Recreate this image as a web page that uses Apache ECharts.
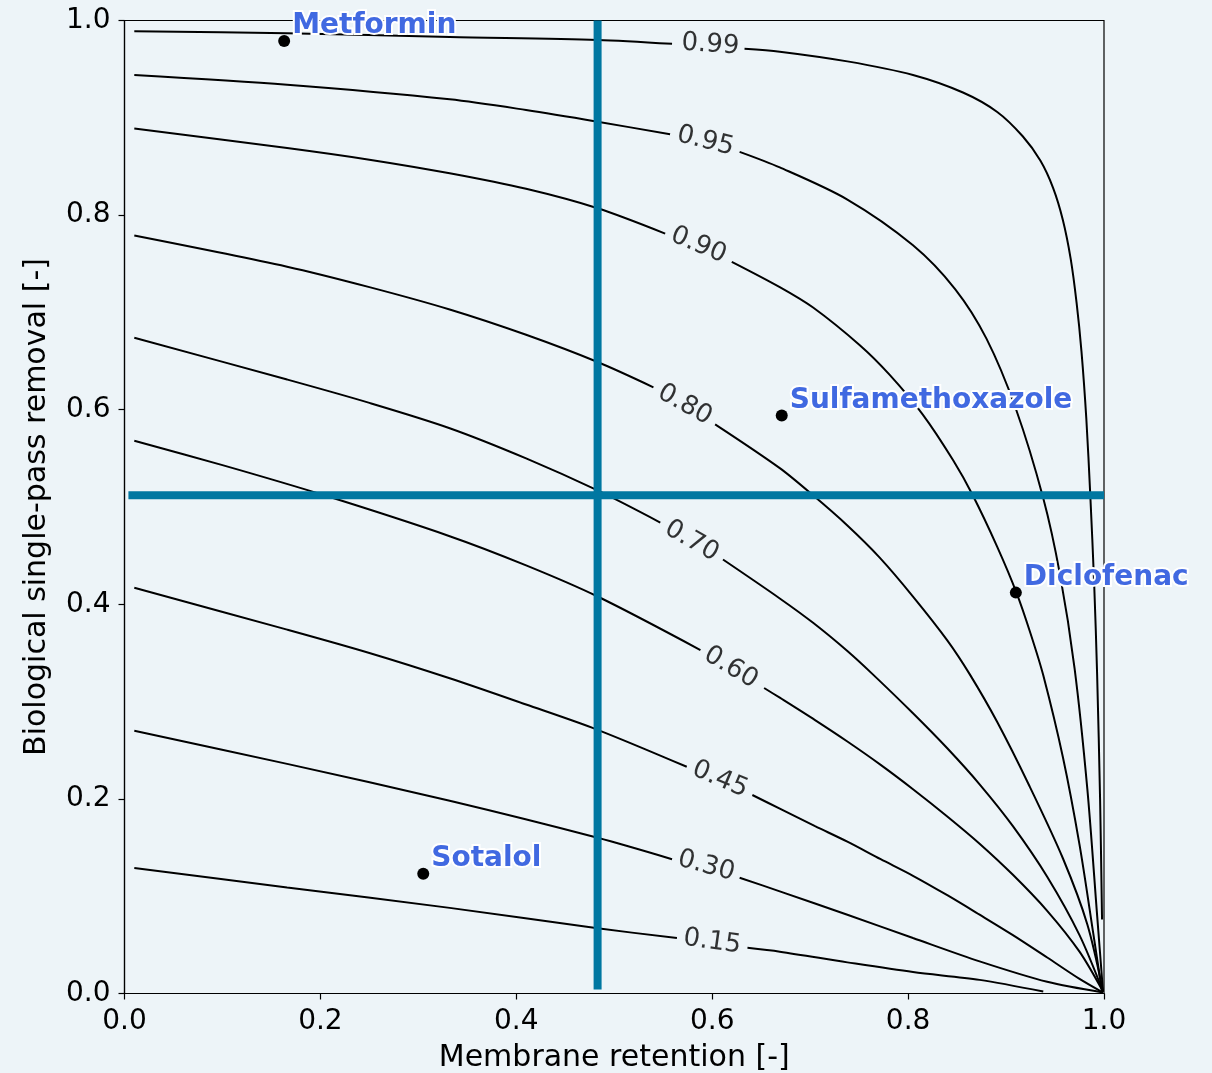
<!DOCTYPE html>
<html>
<head>
<meta charset="utf-8">
<script src="https://cdn.jsdelivr.net/npm/echarts@6/dist/echarts.min.js"></script>
<style>
  html, body { margin: 0; padding: 0; background: #edf4f8; }
  #chart { width: 1212px; height: 1073px; }
</style>
</head>
<body>
<div id="chart"></div>
<script>
// ---- data ----
const xTicks = [0, 0.2, 0.4, 0.6, 0.8, 1.0];
const yTicks = [0, 0.2, 0.4, 0.6, 0.8, 1.0];

// contour lines: [membrane retention, biological removal]; null = gap for inline label
const c99 = [[0.010,0.989],[0.166,0.987],[0.332,0.983],[0.483,0.980],[0.559,0.976], null,
  [0.633,0.971],[0.669,0.968],[0.738,0.958],[0.805,0.944],[0.856,0.926],[0.891,0.906],[0.917,0.881],
  [0.935,0.856],[0.948,0.828],[0.958,0.795],[0.966,0.755],[0.972,0.710],[0.977,0.660],[0.982,0.590],
  [0.986,0.512],[0.990,0.420],[0.993,0.327],[0.996,0.200],[0.998,0.076]];
const c95 = [[0.010,0.944],[0.166,0.934],[0.332,0.919],[0.410,0.908],[0.483,0.896],[0.557,0.883], null,
  [0.628,0.865],[0.669,0.849],[0.738,0.816],[0.805,0.769],[0.848,0.724],[0.880,0.673],[0.910,0.601],
  [0.938,0.509],[0.955,0.431],[0.970,0.334],[0.983,0.210],[0.993,0.080],[0.999,0.002]];
const c90 = [[0.010,0.889],[0.166,0.869],[0.250,0.857],[0.332,0.843],[0.410,0.827],[0.483,0.807],[0.552,0.781], null,
  [0.620,0.752],[0.669,0.726],[0.703,0.705],[0.751,0.666],[0.781,0.636],[0.815,0.595],[0.846,0.548],
  [0.866,0.512],[0.891,0.459],[0.911,0.411],[0.925,0.370],[0.938,0.327],[0.958,0.243],[0.975,0.153],
  [0.989,0.062],[0.998,0.002]];
const c80 = [[0.010,0.779],[0.166,0.747],[0.250,0.726],[0.332,0.703],[0.410,0.677],[0.483,0.649],[0.540,0.623], null,
  [0.603,0.585],[0.669,0.540],[0.703,0.512],[0.738,0.481],[0.771,0.448],[0.805,0.408],[0.840,0.363],
  [0.863,0.328],[0.891,0.279],[0.924,0.213],[0.958,0.139],[0.983,0.071],[0.999,0.002]];
const c70 = [[0.010,0.674],[0.166,0.631],[0.250,0.607],[0.332,0.581],[0.410,0.550],[0.483,0.517],[0.547,0.484], null,
  [0.611,0.446],[0.669,0.406],[0.703,0.381],[0.738,0.352],[0.764,0.328],[0.805,0.288],[0.840,0.252],
  [0.873,0.215],[0.907,0.172],[0.942,0.120],[0.975,0.060],[0.999,0.002]];
const c60 = [[0.010,0.568],[0.100,0.543],[0.204,0.512],[0.332,0.470],[0.410,0.440],[0.483,0.408],[0.588,0.353], null,
  [0.653,0.314],[0.669,0.304],[0.705,0.281],[0.738,0.259],[0.772,0.235],[0.805,0.210],[0.840,0.182],
  [0.873,0.154],[0.907,0.122],[0.942,0.085],[0.975,0.043],[0.999,0.002]];
const c45 = [[0.010,0.417],[0.166,0.374],[0.250,0.350],[0.332,0.324],[0.410,0.297],[0.483,0.271],[0.574,0.233], null,
  [0.641,0.204],[0.669,0.190],[0.705,0.172],[0.738,0.156],[0.772,0.138],[0.805,0.121],[0.840,0.101],
  [0.873,0.081],[0.907,0.060],[0.942,0.037],[0.975,0.015],[0.999,0.001]];
const c30 = [[0.010,0.270],[0.166,0.236],[0.332,0.198],[0.483,0.160],[0.559,0.138], null,
  [0.628,0.119],[0.669,0.105],[0.738,0.081],[0.805,0.057],[0.873,0.033],[0.942,0.012],[0.999,0.001]];
const c15 = [[0.010,0.129],[0.166,0.109],[0.332,0.088],[0.483,0.067],[0.564,0.057], null,
  [0.636,0.047],[0.669,0.043],[0.738,0.032],[0.805,0.022],[0.873,0.014],[0.938,0.002]];

const contourLines = [c15, c30, c45, c60, c70, c80, c90, c95, c99];
const contourLevels = ['0.15','0.30','0.45','0.60','0.70','0.80','0.90','0.95','0.99'];
const labelX = [0.600, 0.594, 0.608, 0.619, 0.579, 0.572, 0.586, 0.593, 0.598];
const labelY = [0.053, 0.131, 0.220, 0.335, 0.465, 0.605, 0.769, 0.876, 0.975];
const labelAngle = [8, 15, 23, 31, 30, 29, 23, 14, 4];

// compounds
const drugNames = ['Metformin', 'Sulfamethoxazole', 'Diclofenac', 'Sotalol'];
const drugX = [0.163, 0.671, 0.910, 0.305];
const drugY = [0.979, 0.594, 0.412, 0.123];

// cross-hair lines
const vLineX = 0.483;
const vLineY = [1.0, 0.004];
const hLineY = 0.512;
const hLineX = [0.004, 1.0];

// ---- chart ----
const FONT = 'DejaVu Sans';
const chart = echarts.init(document.getElementById('chart'), null, { renderer: 'canvas' });

const series = [];
contourLines.forEach((pts, i) => {
  series.push({
    type: 'line', name: 'c' + contourLevels[i], data: pts,
    smooth: 0.3, showSymbol: false, connectNulls: false, z: 2,
    lineStyle: { color: '#000', width: 2 }, silent: true
  });
});
series.push({
  type: 'scatter', symbolSize: 1, z: 3, silent: true,
  itemStyle: { color: 'rgba(0,0,0,0)' },
  data: contourLevels.map((lv, i) => ({
    value: [labelX[i], labelY[i]],
    label: {
      show: true, position: 'inside', formatter: lv, rotate: -labelAngle[i],
      fontFamily: FONT, fontSize: 26, color: '#000'
    }
  }))
});
series.push({
  type: 'line', data: vLineY.map(y => [vLineX, y]), showSymbol: false, z: 5, silent: true,
  lineStyle: { color: '#0077a1', width: 8, cap: 'butt' }
});
series.push({
  type: 'line', data: hLineX.map(x => [x, hLineY]), showSymbol: false, z: 5, silent: true,
  lineStyle: { color: '#0077a1', width: 8, cap: 'butt' }
});
series.push({
  type: 'scatter', z: 6, symbolSize: 12, silent: true,
  itemStyle: { color: '#000', opacity: 1 },
  data: drugNames.map((n, i) => ({ value: [drugX[i], drugY[i]], name: n })),
  label: {
    show: true, position: 'right', distance: 2, offset: [0, -15],
    formatter: p => p.name, fontFamily: FONT, fontWeight: 'bold', fontSize: 28,
    color: '#4169e1', textBorderColor: '#ffffff', textBorderWidth: 4
  }
});

const axisCommon = {
  type: 'value', min: 0, max: 1, interval: 0.2,
  axisLine: { show: true, onZero: false, lineStyle: { color: '#000', width: 1.2 } },
  axisTick: { show: true, inside: false, length: 6, lineStyle: { color: '#000', width: 1.2 } },
  splitLine: { show: false },
  nameTextStyle: { fontFamily: FONT, fontSize: 30, color: '#000' }
};

chart.setOption({
  animation: false,
  backgroundColor: '#edf4f8',
  textStyle: { fontFamily: FONT },
  grid: { left: 124.5, right: 108, top: 20.5, bottom: 79.5, show: true,
          outerBoundsMode: 'none', containLabel: false,
          borderColor: '#000', borderWidth: 1.2, backgroundColor: 'transparent' },
  xAxis: Object.assign({}, axisCommon, {
    name: 'Membrane retention [-]', nameLocation: 'middle', nameGap: 50,
    axisLabel: { formatter: v => v.toFixed(1), fontFamily: FONT, fontSize: 28, color: '#000',
                 margin: 14, showMinLabel: true, showMaxLabel: true }
  }),
  yAxis: Object.assign({}, axisCommon, {
    name: 'Biological single-pass removal [-]', nameLocation: 'middle', nameGap: 72,
    axisLabel: { formatter: v => v.toFixed(1), fontFamily: FONT, fontSize: 28, color: '#000',
                 margin: 14, showMinLabel: true, showMaxLabel: true }
  }),
  series: series
});
</script>
</body>
</html>
